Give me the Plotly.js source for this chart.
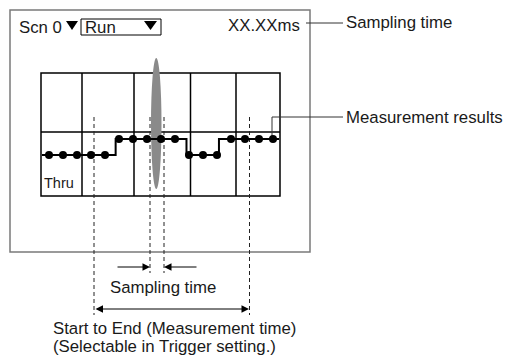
<!DOCTYPE html>
<html><head><meta charset="utf-8">
<script src="https://cdn.plot.ly/plotly-3.0.1.min.js"></script>
<style>html,body{margin:0;padding:0;background:#fff}#chart{width:505px;height:355px}</style>
</head><body><div id="chart"></div>
<script>
// Sampled measurement results (sample number -> level 0 = low, 1 = high)
const sampleIndex = [1,2,3,4,5,6,7,8,9,10,11,12,13,14,15,16,17];
const sampleLevel = [0,0,0,0,0,1,1,1,1,1,0,0,0,1,1,1,1];
// Step trace edges (in sample units) and levels held from each edge
const stepEdges  = [0.5, 5.76, 10.82, 13.14, 17.43];
const stepLevels = [0, 1, 0, 1, 1];
// Texts
const headerScn = 'Scn 0';
const headerRun = 'Run';
const headerTime = 'XX.XXms';
const thruLabel = 'Thru';
const labelSampling = 'Sampling time';
const labelResults = 'Measurement results';
const labelMeasTime = ['Start to End (Measurement time)', '(Selectable in Trigger setting.)'];

const W = 505, H = 355;
const FONT = 'Liberation Sans, Arial, sans-serif';
const txt = '#1a1a1a';
const FS = 16.8;

const traces = [
  {x: stepEdges, y: stepLevels, xaxis: 'x2', yaxis: 'y2', mode: 'lines',
   line: {shape: 'hv', color: '#000', width: 2}, hoverinfo: 'skip'},
  {x: sampleIndex, y: sampleLevel, xaxis: 'x2', yaxis: 'y2', mode: 'markers',
   marker: {color: '#000', size: 8}, hoverinfo: 'skip'}
];

function ln(x0, y0, x1, y1, color, width, dash) {
  return {type: 'line', xref: 'x', yref: 'y', x0, y0, x1, y1, layer: 'below',
    line: {color: color || '#000', width: width || 1, dash: dash || 'solid'}};
}
const shapes = [
  // outer monitor frame
  {type: 'rect', xref: 'x', yref: 'y', x0: 10, y0: 10, x1: 310, y1: 252, layer: 'below',
   line: {color: '#7a7a7a', width: 1.5}},
  // Run box
  {type: 'rect', xref: 'x', yref: 'y', x0: 81, y0: 19, x1: 161, y1: 35, layer: 'below',
   line: {color: '#000', width: 1}},
  {type: 'path', xref: 'x', yref: 'y', path: 'M66,21 L78,21 L72,30 Z', fillcolor: '#000', line: {width: 0}, layer: 'below'},
  {type: 'path', xref: 'x', yref: 'y', path: 'M144,21 L157,21 L150.5,30 Z', fillcolor: '#000', line: {width: 0}, layer: 'below'},
  // graph grid
  {type: 'rect', xref: 'x', yref: 'y', x0: 41, y0: 73, x1: 280, y1: 196, layer: 'below',
   line: {color: '#000', width: 1.5}},
  ln(41, 132, 280, 132, '#000', 1.5),
  ln(82, 73, 82, 196, '#000', 1.5),
  ln(134, 73, 134, 196, '#000', 1.5),
  ln(190.5, 73, 190.5, 196, '#000', 1.5),
  ln(236, 73, 236, 196, '#000', 1.5),
  // sampling ellipse
  {type: 'circle', xref: 'x', yref: 'y', x0: 151, y0: 58, x1: 161.5, y1: 189, layer: 'below',
   fillcolor: '#8a8a8a', line: {width: 0}},
  // dashed markers
  ln(94, 117, 94, 315, '#222', 1, '4px,3px'),
  ln(150, 117, 150, 273, '#222', 1, '4px,3px'),
  ln(164, 117, 164, 273, '#222', 1, '4px,3px'),
  ln(249.5, 117, 249.5, 315, '#222', 1, '4px,3px'),
  // leader lines
  ln(306, 23, 343, 23, '#333', 1),
  {type: 'path', xref: 'x', yref: 'y', path: 'M272,139 L272,117 L343,117', layer: 'below',
   line: {color: '#333', width: 1}}
];

function lab(text, x, y, xanchor, size) {
  return {text, x, y, xref: 'x', yref: 'y', xanchor: xanchor || 'left', yanchor: 'middle',
    showarrow: false, font: {family: FONT, size: size || FS, color: txt}};
}
function arrow(x, ax, y, both) {
  const a = {text: '', x, y, ax, ay: y, xref: 'x', yref: 'y', axref: 'x', ayref: 'y',
    showarrow: true, arrowhead: 2, arrowsize: 1.5, arrowwidth: 1, arrowcolor: '#000', standoff: 0, startstandoff: 0};
  if (both) { a.arrowside = 'end+start'; a.startarrowhead = 2; a.startarrowsize = 1.5; }
  return a;
}
const annotations = [
  lab(headerScn, 17, 27),
  lab(headerRun, 83, 27),
  lab(headerTime, 302, 25, 'right'),
  lab(labelSampling, 344, 22),
  lab(labelResults, 344, 117),
  lab(thruLabel, 42, 183, 'left', 14.5),
  lab(labelSampling, 163, 287, 'center'),
  lab(labelMeasTime[0], 51, 328),
  lab(labelMeasTime[1], 51, 346),
  arrow(150, 116, 267),
  arrow(164, 198, 267),
  arrow(249, 94, 309, true)
];

const layout = {
  width: W, height: H, margin: {l: 0, r: 0, t: 0, b: 0},
  paper_bgcolor: '#fff', plot_bgcolor: 'rgba(0,0,0,0)', showlegend: false,
  xaxis: {range: [0, W], visible: false, fixedrange: true, domain: [0, 1]},
  yaxis: {range: [H, 0], visible: false, fixedrange: true, domain: [0, 1]},
  xaxis2: {range: [(41 - 35) / 14, (280 - 35) / 14], domain: [41 / W, 280 / W], anchor: 'y2', visible: false, fixedrange: true},
  yaxis2: {range: [-2.5625, 5.125], domain: [(H - 196) / H, (H - 73) / H], anchor: 'x2', visible: false, fixedrange: true},
  shapes, annotations
};
Plotly.newPlot('chart', traces, layout, {staticPlot: true, displayModeBar: false});
</script></body></html>
